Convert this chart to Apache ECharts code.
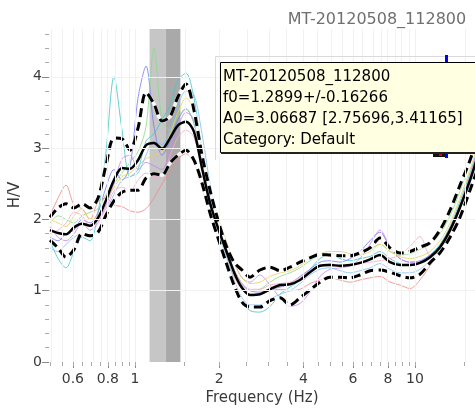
<!DOCTYPE html>
<html>
<head>
<meta charset="utf-8">
<script src="https://cdn.jsdelivr.net/npm/echarts@6/dist/echarts.min.js"></script>
<style>
html,body{margin:0;padding:0;background:#fff;}
#c{width:475px;height:410px;}
</style>
</head>
<body>
<div id="c"></div>
<script>
// ---- data ----
const FREQ = [0.497,0.531,0.567,0.606,0.647,0.691,0.738,0.788,0.841,0.899,0.960,1.025,1.095,1.169,1.249,1.334,1.424,1.521,1.624,1.735,1.853,1.979,2.113,2.257,2.411,2.575,2.795,3.035,3.295,3.577,3.884,4.217,4.578,4.970,5.396,5.859,6.361,6.906,7.499,8.141,8.839,9.597,10.42,11.31,12.28,13.34,14.48,15.72,16.79];
const MEAN  = [1.85,1.81,1.79,1.89,1.94,1.91,2.02,2.27,2.55,2.72,2.71,2.83,3.04,3.07,2.99,3.14,3.32,3.37,3.23,2.72,2.23,1.88,1.57,1.26,1.04,0.94,0.95,1.02,1.08,1.09,1.15,1.26,1.35,1.36,1.35,1.36,1.39,1.44,1.50,1.40,1.36,1.36,1.39,1.47,1.61,1.85,2.17,2.55,2.90];
const UPPER = [2.03,2.16,2.22,2.16,2.22,2.16,2.30,2.76,3.14,3.13,2.97,3.28,3.78,3.62,3.38,3.44,3.72,3.90,3.53,2.90,2.41,1.99,1.64,1.40,1.29,1.19,1.29,1.33,1.28,1.33,1.40,1.46,1.51,1.50,1.49,1.49,1.53,1.60,1.74,1.60,1.53,1.55,1.61,1.67,1.85,2.13,2.48,2.83,3.18];
const LOWER = [1.71,1.60,1.47,1.58,1.80,1.77,1.82,2.06,2.26,2.38,2.41,2.41,2.58,2.64,2.62,2.79,2.90,2.97,2.83,2.51,2.09,1.74,1.40,1.08,0.84,0.77,0.77,0.86,0.90,0.80,0.90,1.01,1.12,1.19,1.19,1.18,1.22,1.28,1.29,1.26,1.21,1.18,1.23,1.39,1.53,1.75,2.03,2.41,2.72];
const WIN_CYAN   = [1.70,1.45,1.32,1.55,1.75,1.70,2.10,2.95,4.00,3.25,2.60,2.70,3.10,3.20,3.40,3.60,3.95,4.05,3.70,2.95,2.35,1.85,1.45,1.10,0.85,0.72,0.70,0.78,0.95,1.05,1.15,1.30,1.45,1.52,1.45,1.42,1.45,1.48,1.55,1.45,1.38,1.35,1.40,1.50,1.65,1.90,2.25,2.65,3.00];
const WIN_BLUE   = [1.75,1.70,1.80,1.85,2.00,1.95,2.10,2.45,2.70,2.55,2.75,3.70,4.15,3.30,2.90,3.10,3.40,3.55,3.35,2.85,2.30,1.90,1.60,1.30,1.10,1.00,0.98,1.02,1.05,1.10,1.20,1.30,1.40,1.42,1.40,1.45,1.55,1.70,1.82,1.60,1.45,1.40,1.42,1.50,1.62,1.85,2.20,2.60,2.95];
const WIN_GREEN  = [1.95,2.05,2.00,1.95,2.05,2.10,2.15,2.35,2.50,2.65,2.80,2.95,3.30,4.40,3.40,3.25,3.45,3.55,3.35,2.85,2.35,1.95,1.60,1.30,1.08,1.00,1.02,1.12,1.20,1.25,1.32,1.42,1.50,1.52,1.50,1.50,1.52,1.58,1.65,1.55,1.50,1.52,1.58,1.65,1.80,2.05,2.40,2.80,3.15];
const WIN_RED    = [2.05,2.30,2.48,2.20,2.15,2.00,2.25,2.30,2.20,2.18,2.12,2.10,2.15,2.30,2.50,2.68,2.85,2.92,2.80,2.45,2.05,1.75,1.45,1.20,1.02,0.95,0.95,1.00,1.02,1.00,1.02,1.10,1.15,1.18,1.15,1.12,1.15,1.18,1.20,1.12,1.08,1.03,1.15,1.35,1.55,1.80,2.15,2.55,2.90];
const WIN_VIOLET = [1.90,1.75,1.70,1.80,1.95,1.85,1.95,2.20,2.50,2.85,2.90,2.70,2.80,2.75,2.70,2.95,3.30,3.50,3.40,2.95,2.40,2.00,1.70,1.40,1.18,1.12,1.22,1.08,0.90,0.78,0.82,0.98,1.20,1.30,1.32,1.35,1.45,1.65,1.85,1.62,1.45,1.40,1.40,1.45,1.60,1.85,2.20,2.60,3.00];
const WIN_YELLOW = [2.00,1.95,1.90,2.05,2.15,2.00,2.05,2.25,2.45,2.60,2.65,2.75,2.85,2.90,2.95,3.20,3.50,3.70,3.55,3.00,2.45,2.05,1.70,1.40,1.18,1.10,1.12,1.20,1.25,1.28,1.35,1.45,1.52,1.55,1.55,1.52,1.50,1.55,1.65,1.55,1.48,1.45,1.48,1.55,1.70,1.95,2.30,2.70,3.05];
const WIN_LBLUE  = [1.60,1.55,1.65,1.75,1.80,1.75,1.85,2.10,2.35,2.55,2.60,2.65,2.90,3.10,3.05,3.25,3.60,3.80,3.75,3.20,2.50,1.95,1.50,1.15,0.90,0.80,0.80,0.88,0.95,1.00,1.10,1.22,1.30,1.32,1.28,1.25,1.28,1.32,1.38,1.30,1.25,1.25,1.30,1.42,1.58,1.82,2.15,2.50,2.85];
const WIN_PINK   = [1.80,1.85,1.95,2.10,2.05,1.90,1.98,2.15,2.40,2.45,2.40,2.55,2.65,2.60,2.60,2.90,3.15,3.25,3.15,2.70,2.20,1.85,1.55,1.28,1.10,1.02,1.02,1.08,1.10,1.12,1.18,1.28,1.35,1.38,1.35,1.35,1.38,1.40,1.42,1.45,1.50,1.62,1.76,1.50,1.62,1.88,2.20,2.60,2.95];

const X_LABELS = [0.6,0.8,1,2,4,6,8,10];
const X_MINOR = [0.5,0.55,0.6,0.65,0.7,0.75,0.8,0.85,0.9,0.95,1,1.5,2,2.5,3,3.5,4,4.5,5,5.5,6,6.5,7,7.5,8,8.5,9,9.5,10,15];
const Y_LABELS = [0,1,2,3,4];
const Y_MINOR = [0.2,0.4,0.6,0.8,1.2,1.4,1.6,1.8,2.2,2.4,2.6,2.8,3.2,3.4,3.6,3.8,4.2,4.4,4.6];
const F0 = 1.2899, F0_STD = 0.16266;
const X_MIN = 0.493, X_MAX = 16.38, Y_MAX = 4.67;
const TITLE = 'MT-20120508_112800';
const TIP_LINES = ['MT-20120508_112800','f0=1.2899+/-0.16266','A0=3.06687 [2.75696,3.41165]','Category: Default'];

// ---- build ----
const L = Math.log10;
const pts = arr => FREQ.map((f,i) => [L(f), arr[i]]);
const FONT = '"DejaVu Sans", Verdana, sans-serif';

const windows = [
  [WIN_CYAN,'rgba(70,200,205,0.85)'],
  [WIN_BLUE,'rgba(120,120,240,0.8)'],
  [WIN_GREEN,'rgba(140,220,140,0.85)'],
  [WIN_RED,'rgba(240,140,140,0.85)'],
  [WIN_VIOLET,'rgba(200,130,240,0.8)'],
  [WIN_YELLOW,'rgba(230,210,100,0.85)'],
  [WIN_LBLUE,'rgba(130,190,240,0.8)'],
  [WIN_PINK,'rgba(245,170,200,0.85)']
];

const series = [];
series.push({
  type:'line', data:[], z:0, silent:true,
  markLine:{silent:true, symbol:'none', label:{show:false},
    lineStyle:{color:'#f1f1f1', type:'solid', width:1},
    data: X_MINOR.map(f => ({xAxis: L(f)})).concat(Y_LABELS.slice(1).map(v => ({yAxis: v})))}
});
series.push({
  type:'line', data:[], z:1, silent:true,
  markArea:{silent:true, data:[
    [{xAxis:L(F0-F0_STD), itemStyle:{color:'#c6c6c6'}},{xAxis:L(F0)}],
    [{xAxis:L(F0), itemStyle:{color:'#a9a9a9'}},{xAxis:L(F0+F0_STD)}]
  ]}
});
windows.forEach(([arr,col]) => series.push({
  type:'line', data:pts(arr), showSymbol:false, smooth:0.3, z:2,
  lineStyle:{color:col, width:1}
}));
[UPPER, LOWER].forEach(arr => {
  series.push({type:'line', data:pts(arr), showSymbol:false, smooth:0.3, z:3,
    lineStyle:{color:'rgba(255,255,255,0.85)', width:3.5}});
  series.push({type:'line', data:pts(arr), showSymbol:false, smooth:0.3, z:4,
    lineStyle:{color:'#000', width:3, type:[9,5]}});
});
series.push({type:'line', data:pts(MEAN), showSymbol:false, smooth:0.3, z:4,
  lineStyle:{color:'#000', width:2.5}});

const fmt = v => String(Math.round(Math.pow(10,v)*100)/100);

const option = {
  animation:false,
  grid:{left:49, right:0, top:29, bottom:48},
  xAxis:[
    {type:'value', min:L(X_MIN), max:L(X_MAX), position:'bottom',
      axisLine:{show:false, onZero:false}, splitLine:{show:false},
      axisTick:{show:true, length:6, lineStyle:{color:'#888'}, customValues:X_LABELS.map(L)},
      axisLabel:{customValues:X_LABELS.map(L), formatter:fmt, fontSize:14, fontFamily:FONT, color:'#3a3a3a', margin:10}},
    {type:'value', min:L(X_MIN), max:L(X_MAX), position:'bottom',
      axisLine:{show:false, onZero:false}, splitLine:{show:false},
      axisTick:{show:true, length:4, lineStyle:{color:'#aaa'}, customValues:X_MINOR.map(L)},
      axisLabel:{show:false}}
  ],
  yAxis:[
    {type:'value', min:0, max:Y_MAX, position:'left',
      axisLine:{show:false, onZero:false}, splitLine:{show:false},
      axisTick:{show:true, length:7, lineStyle:{color:'#888'}, customValues:Y_LABELS},
      axisLabel:{customValues:Y_LABELS, fontSize:14, fontFamily:FONT, color:'#3a3a3a', margin:7}},
    {type:'value', min:0, max:Y_MAX, position:'left',
      axisLine:{show:false, onZero:false}, splitLine:{show:false},
      axisTick:{show:true, length:4, lineStyle:{color:'#aaa'}, customValues:Y_MINOR},
      axisLabel:{show:false}}
  ],
  series: series,
  graphic:[
    {type:'text', x:377, y:20, z:100, style:{text:TITLE, x:0, y:0, align:'center', verticalAlign:'middle', font:'16px '+FONT, fill:'#707070'}},
    {type:'text', x:15, y:195, rotation:Math.PI/2, z:100, style:{text:'H/V', x:0, y:0, align:'center', verticalAlign:'middle', font:'15px '+FONT, fill:'#3a3a3a'}},
    {type:'text', x:262, y:398, z:100, style:{text:'Frequency (Hz)', x:0, y:0, align:'center', verticalAlign:'middle', font:'15px '+FONT, fill:'#3a3a3a'}},
    {type:'polyline', z:98, shape:{points:[[215.5,160],[215.5,56.5],[480,56.5]]}, style:{stroke:'#dadada', lineWidth:1, fill:null}},
    {type:'rect', z:99, shape:{x:445, y:55, width:3, height:103}, style:{fill:'#0000ff'}},
    {type:'rect', z:99, shape:{x:433, y:152, width:12, height:5}, style:{fill:'#111'}},
    {type:'rect', z:99, shape:{x:439, y:153, width:3, height:3}, style:{fill:'#d00'}},
    {type:'rect', z:100, shape:{x:220.5, y:62.5, width:270, height:90}, style:{fill:'#ffffe1', stroke:'#000', lineWidth:1}},
    {type:'rect', z:100, shape:{x:221, y:152, width:270, height:2}, style:{fill:'#222'}},
    ...TIP_LINES.map((t,i) => ({type:'text', z:101, x:223, y:77 + i*21, style:{text:t, x:0, y:0, align:'left', verticalAlign:'middle', font:'15px '+FONT, fill:'#000'}}))
  ]
};
const chart = echarts.init(document.getElementById('c'), null, {renderer:'canvas'});
chart.setOption(option);
</script>
</body>
</html>
